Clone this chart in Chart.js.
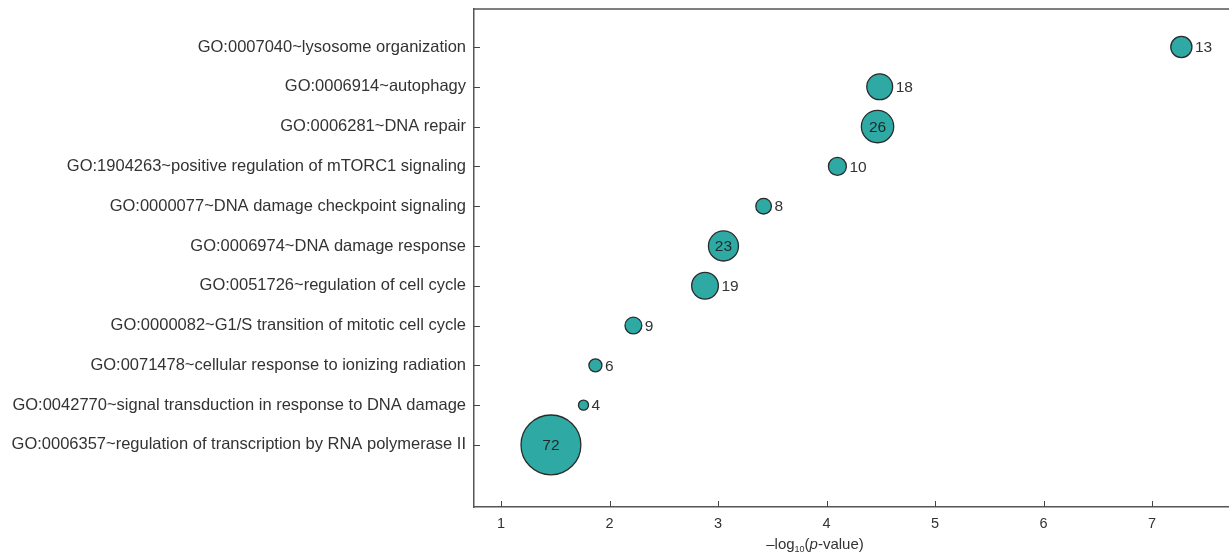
<!DOCTYPE html>
<html>
<head>
<meta charset="utf-8">
<script src="https://cdn.jsdelivr.net/npm/chart.js@4"></script>
<style>
    html, body { margin: 0; padding: 0; background: #fff; }
    #wrap { position: relative; width: 1229px; height: 557px; }
    #xTitle {
        position: absolute; left: 700px; width: 230px; top: 535px;
        text-align: center; font: 15px "Liberation Sans", Arial, sans-serif; color: #333;
    }
    #xTitle sub { font-size: 9px; vertical-align: -3px; line-height: 0; }
</style>
</head>
<body>
<div id="wrap">
    <canvas id="goChart" width="1229" height="557"></canvas>
    <div id="xTitle">–log<sub>10</sub>(<i>p</i>-value)</div>
</div>
<script>
// GO terms, top to bottom
const goTerms = [
    'GO:0007040~lysosome organization',
    'GO:0006914~autophagy',
    'GO:0006281~DNA repair',
    'GO:1904263~positive regulation of mTORC1 signaling',
    'GO:0000077~DNA damage checkpoint signaling',
    'GO:0006974~DNA damage response',
    'GO:0051726~regulation of cell cycle',
    'GO:0000082~G1/S transition of mitotic cell cycle',
    'GO:0071478~cellular response to ionizing radiation',
    'GO:0042770~signal transduction in response to DNA damage',
    'GO:0006357~regulation of transcription by RNA polymerase II'
];
const negLogP = [7.27, 4.49, 4.47, 4.10, 3.42, 3.05, 2.88, 2.22, 1.87, 1.76, 1.46];
const geneCounts = [13, 18, 26, 10, 8, 23, 19, 9, 6, 4, 72];
const xTickValues = [1, 2, 3, 4, 5, 6, 7];

const FONT = '"Liberation Sans", Arial, sans-serif';
const TEXT = '#333';
const AXIS = '#555';

// bubble size scale (pixels)
const radiusFor = n => 2.44 * Math.pow(n, 0.59) - 0.5;

// drop the label-overhang padding chart.js adds around the plot
const noPad = s => { s.paddingTop = 0; s.paddingBottom = 0; s.paddingLeft = 0; s.paddingRight = 0; };

// top border + inward ticks + count labels
const decorations = {
    id: 'decorations',
    afterDatasetsDraw(chart) {
        const { ctx, chartArea: a, scales: { x, y } } = chart;
        ctx.save();
        ctx.strokeStyle = AXIS;
        ctx.lineWidth = 1.5;
        ctx.beginPath();
        ctx.moveTo(a.left, a.top);
        ctx.lineTo(a.right, a.top);
        ctx.stroke();

        ctx.strokeStyle = '#444';
        ctx.lineWidth = 1;
        ctx.beginPath();
        xTickValues.forEach(v => {
            const px = Math.round(x.getPixelForValue(v)) + 0.5;
            ctx.moveTo(px, a.bottom);
            ctx.lineTo(px, a.bottom - 6);
        });
        goTerms.forEach((_, i) => {
            const py = Math.round(y.getPixelForValue(i)) + 0.5;
            ctx.moveTo(a.left, py);
            ctx.lineTo(a.left + 6, py);
        });
        ctx.stroke();

        const meta = chart.getDatasetMeta(0);
        ctx.font = '15.5px ' + FONT;
        ctx.textBaseline = 'middle';
        meta.data.forEach((el, i) => {
            const n = geneCounts[i];
            const r = el.options.radius;
            if (n >= 20) {
                ctx.fillStyle = '#1e2a2a';
                ctx.textAlign = 'center';
                ctx.fillText(String(n), el.x, el.y + 1);
            } else {
                ctx.fillStyle = TEXT;
                ctx.textAlign = 'left';
                ctx.fillText(String(n), el.x + r + 3, el.y + 1);
            }
        });
        ctx.restore();
    }
};

new Chart(document.getElementById('goChart'), {
    type: 'bubble',
    data: {
        datasets: [{
            data: negLogP.map((v, i) => ({ x: v, y: i, r: radiusFor(geneCounts[i]) })),
            backgroundColor: '#2ea9a3',
            borderColor: '#2b2b2b',
            borderWidth: 1.3,
            clip: false
        }]
    },
    options: {
        responsive: false,
        animation: false,
        layout: { autoPadding: false, padding: { top: 9, right: 0, bottom: 0, left: 0 } },
        plugins: { legend: { display: false }, tooltip: { enabled: false } },
        scales: {
            x: {
                type: 'linear',
                min: 0.751,
                max: 7.709,
                afterBuildTicks: s => { s.ticks = xTickValues.map(v => ({ value: v })); },
                afterFit: s => { s.height = 50; noPad(s); },
                grid: { display: true, drawOnChartArea: false, drawTicks: false },
                border: { display: true, color: AXIS, width: 1.5 },
                ticks: { color: TEXT, font: { family: FONT, size: 14.5 }, padding: 8, maxRotation: 0 }
            },
            y: {
                type: 'linear',
                reverse: true,
                min: -0.955,
                max: 11.56,
                afterBuildTicks: s => { s.ticks = goTerms.map((_, i) => ({ value: i })); },
                afterFit: s => { s.width = 474; noPad(s); },
                grid: { display: true, drawOnChartArea: false, drawTicks: false },
                border: { display: true, color: AXIS, width: 1.5 },
                ticks: {
                    color: TEXT,
                    font: { family: FONT, size: 16.5 },
                    padding: 8,
                    callback: v => goTerms[v] || ''
                }
            }
        }
    },
    plugins: [decorations]
});
</script>
</body>
</html>
